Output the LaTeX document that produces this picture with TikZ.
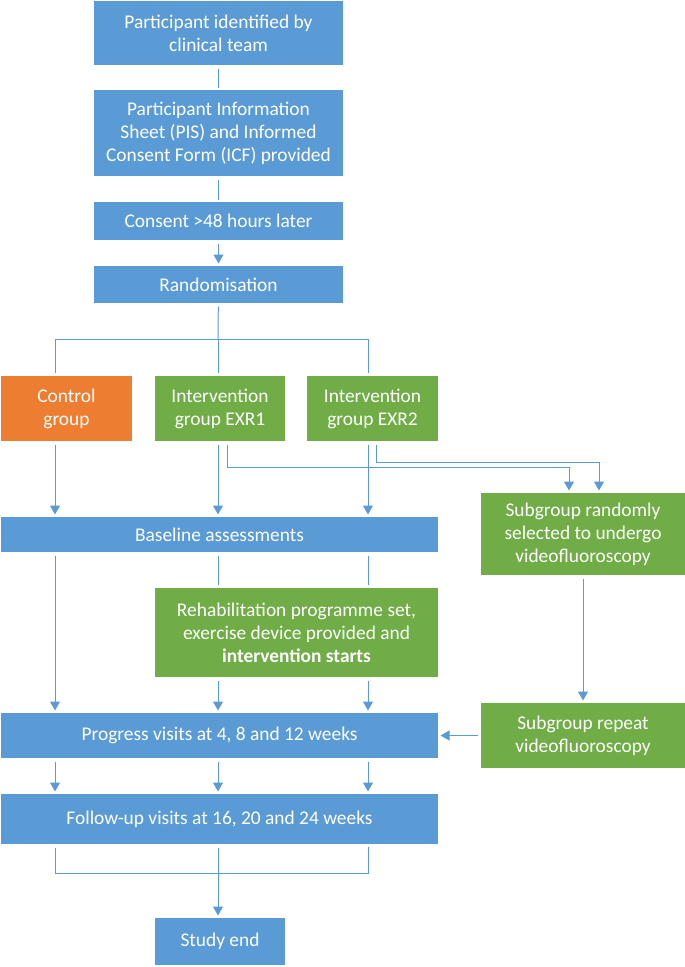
\documentclass[tikz,border=0pt]{standalone}
\usepackage{fontspec}
\setmainfont{Carlito}
\usetikzlibrary{arrows.meta}
\definecolor{boxblue}{HTML}{5B9BD5}
\definecolor{boxgreen}{HTML}{70AD47}
\definecolor{boxorange}{HTML}{ED7D31}

\begin{document}
\begin{tikzpicture}[x=1pt,y=-1pt,->,>={Triangle[length=9pt,width=10pt]},shorten >=2pt,shorten <=3pt,line width=1pt,color=boxblue,
  main node/.style={rectangle,fill=boxblue,text=white,align=center,inner sep=0pt,font=\fontsize{19.4}{23}\selectfont},
  green node/.style={main node,fill=boxgreen},
  orange node/.style={main node,fill=boxorange}]
  \useasboundingbox (0,0) rectangle (685,967);
  \node[main node,minimum width=249,minimum height=64] (1) at (218.5,33) {Participant identified by\\clinical team};
  \node[main node,minimum width=249,minimum height=86] (2) at (218.5,133) {Participant Information\\Sheet (PIS) and Informed\\Consent Form (ICF) provided};
  \node[main node,minimum width=249,minimum height=38] (3) at (218.5,221) {Consent >48 hours later};
  \node[main node,minimum width=249,minimum height=37] (4) at (218.5,284.5) {Randomisation};
  \node[orange node,minimum width=131,minimum height=65] (5) at (66.5,408.5) {Control\\group};
  \node[green node,minimum width=130,minimum height=65] (6) at (220,408.5) {Intervention\\group EXR1};
  \node[green node,minimum width=131,minimum height=65] (7) at (372.5,408.5) {Intervention\\group EXR2};
  \node[green node,minimum width=204,minimum height=82] (8) at (583,534) {Subgroup randomly\\selected to undergo\\videofluoroscopy};
  \node[main node,minimum width=437,minimum height=35] (9) at (219.5,534.5) {Baseline assessments};
  \node[green node,minimum width=283,minimum height=89] (10) at (296.5,632.5) {Rehabilitation programme set,\\exercise device provided and\\\textbf{intervention starts}};
  \node[green node,minimum width=204,minimum height=65] (11) at (583,735.5) {Subgroup repeat\\videofluoroscopy};
  \node[main node,minimum width=437,minimum height=45] (12) at (219.5,735.5) {Progress visits at 4, 8 and 12 weeks};
  \node[main node,minimum width=437,minimum height=50] (13) at (219.5,819) {Follow-up visits at 16, 20 and 24 weeks};
  \node[main node,minimum width=130,minimum height=47] (14) at (220,941.5) {Study end};

  \coordinate (a) at (55,0);
  \coordinate (b) at (218,0);
  \coordinate (c) at (368,0);
  \coordinate (s) at (218,339);
  \coordinate (j) at (218,873);

\path
  (1) edge[-] (2)
  (2) edge[-] (3)
  (3) edge (4)
  (8) edge (11)
  (11) edge (12);

  % randomisation split
  \draw[-,shorten >=0pt] (4) -- (s);
  \draw[-,shorten <=0pt,shorten >=3pt] (s) -| (5.north -| a);
  \draw[-,shorten <=0pt,shorten >=3pt] (s) -- (6.north -| s);
  \draw[-,shorten <=0pt,shorten >=3pt] (s) -| (7.north -| c);

  \draw (5.south -| a) -- (9.north -| a);
  \draw (6.south -| b) -- (9.north -| b);
  \draw (7.south -| c) -- (9.north -| c);
  \draw ([xshift=7pt]6.south) -- ++(0,26) -| ([xshift=-14pt]8.north);
  \draw ([xshift=3.5pt]7.south) -- ++(0,21) -| ([xshift=16pt]8.north);

  \draw[-,shorten >=3pt] (9.south -| b) -- (10.north -| b);
  \draw[-,shorten >=3pt] (9.south -| c) -- (10.north -| c);
  \draw (9.south -| a) -- (12.north -| a);
  \draw (10.south -| b) -- (12.north -| b);
  \draw (10.south -| c) -- (12.north -| c);

  \draw (12.south -| a) -- (13.north -| a);
  \draw (12.south -| b) -- (13.north -| b);
  \draw (12.south -| c) -- (13.north -| c);

  % follow-up to study end
  \draw[-] (13.south -| a) -- (a |- j) -- (c |- j) -- (13.south -| c);
  \draw (13.south -| b) -- (14.north -| b);
\end{tikzpicture}
\end{document}
